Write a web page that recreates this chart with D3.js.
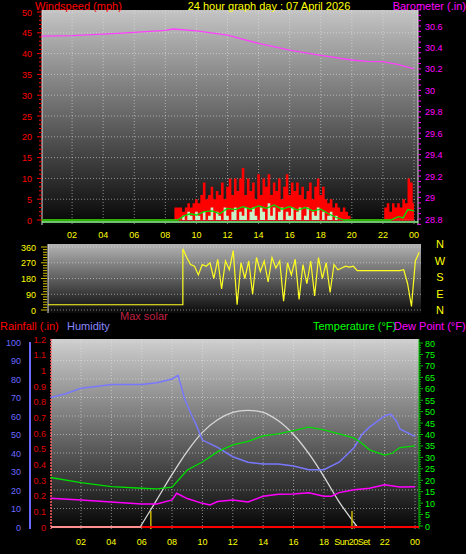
<!DOCTYPE html>
<html><head><meta charset="utf-8">
<script src="https://cdn.jsdelivr.net/npm/d3@7"></script>
<style>body{margin:0;background:#000}svg{display:block;font-family:"Liberation Sans",Arial,sans-serif}</style>
</head><body><svg id="c" width="466" height="554"></svg>
<script>
// ---------- data ----------
const hourTicks = ["02","04","06","08","10","12","14","16","18","20","22","00"];
const windTicks = [0,5,10,15,20,25,30,35,40,45,50];
const baroTicks = [28.8,29,29.2,29.4,29.6,29.8,30,30.2,30.4,30.6];
const dirTicks = [0,90,180,270,360];
const compass = ["N","W","S","E","N"];
const humTicks = [0,10,20,30,40,50,60,70,80,90,100];
const rainTicks = [0,0.1,0.2,0.3,0.4,0.5,0.6,0.7,0.8,0.9,1,1.1,1.2];
const tempTicks = [0,5,10,15,20,25,30,35,40,45,50,55,60,65,70,75,80];

const baroHours = [0,2,4,6,8,8.5,10,12,14,16,18,20,21,22,23,24];
const baroVals  = [30.505,30.51,30.525,30.54,30.56,30.572,30.554,30.514,30.437,30.375,30.326,30.283,30.27,30.268,30.24,30.2];

// gust (mph), 10-minute samples from 08:30 to 20:00
const gustStart = 8.5, gustStep = 1/6;
const gustVals = [0,3,3,3,2,3,4,3,4,5,4,6,9,5,6,8,5,7,6,9,5,8,10,6,10,7,10,12.5,6,10,7,9,5,11,6,10,8,11,6,9,7,10,5,8,11,6,9,7,9,6,8,5,7,9,5,8,10,6,8,5,4,5,3,4,3,2,3,2,1,0];
// gust 22:00-24:00, 10-minute samples
const gust2Start = 22, gust2Vals = [0,3,4,2,4,3,4,3,5,4,10,9,4];
// average speed (mph)
const avgHours = [0,8.8,9.2,9.6,10,10.5,11,11.5,12,12.5,13,13.5,14,14.5,15,15.5,16,16.5,17,17.5,18,18.5,19,19.5,22.5,23,23.3,23.6,24];
const avgVals  = [0,0,1,1.5,1.2,2,2.2,1.5,2.8,2.5,3.2,2.6,3.4,2.8,3.6,2.6,3.2,2.4,3,2.2,2.6,1.5,0.6,0,0,0.8,0.5,2.5,2.2];
// wind speed (mph), 10-minute samples from 09:00 to 19:30
const spdStart = 9, spdStep = 1/6;
const spdVals = [0,1,0,2,1,0,2,1,0,2,0,1,3,0,2,1,0,3,1,0,2,3,0,2,1,3,0,2,3,1,0,3,2,0,4,1,3,0,2,3,0,2,1,3,0,2,3,0,1,3,0,2,1,3,0,2,0,1,2,0,1,0,0,0];
// wind direction (deg)
const dirPreHours = [0,8.7], dirPreVals = [30,30];
const dirStart = 8.7, dirStep = 0.25;
const dirVals = [350,300,260,250,200,260,250,270,180,290,120,280,230,340,30,270,180,280,90,300,220,280,160,300,240,280,50,270,200,290,60,260,150,280,80,300,180,270,100,260,230,240,250,245,250,225,225,225,225,225,225,225,225,225,225,225,225,230,150,20,280,330,200,300];

// humidity %, temperature, dew point (°F)
const humHours = [0,1,2,3,4,5,6,7,8,8.4,8.8,9.2,9.6,10,11,12,13,14,15,16,17,18,19,20,20.5,21,22,22.4,22.8,23,24];
const humVals  = [70,72,75,76,77,77,77,78,80,82,70,62,55,47,43,38,35,34,34,33,31,31,35,43,50,54,60,61,57,53,49];
const tempHours = [0,2,4,6,7,8,9,10,11,12,13,14,15,16,17,18,19,20,20.5,21,22,22.5,23,24];
const tempVals  = [21.2,19,17.2,16.5,16.2,17,24.5,28,32.5,35.5,37,39.4,40.3,41.7,43.2,42,40.3,38.4,36.2,33.3,31,31.8,34.3,35];
const dewHours = [0,2,4,6,7,8,8.3,9,10,10.5,11,12,13,14,15,16,17,18,18.5,19,20,21,22,23,24];
const dewVals  = [12.1,11.4,10.5,9.6,9.6,11.4,14.3,12,9.9,9.2,10.7,11.4,10.5,13,13.9,14,14.5,13,13,14.6,15.8,16.5,18,17,17.2];
const solarHours = [5.9,7,8,9,10,11,12,13,14,15,16,17,18,19,20.2];
const solarVals  = [0,130,250,360,450,510,545,555,545,505,440,350,240,120,0];
const sunEvents = [6.6,19.85];

// ---------- drawing ----------
const svg = d3.select("#c");
const defs = svg.append("defs");
function grad(id, top, bot){
  const g = defs.append("linearGradient").attr("id",id).attr("x1",0).attr("y1",0).attr("x2",0).attr("y2",1);
  g.append("stop").attr("offset","0%").attr("stop-color",top);
  g.append("stop").attr("offset","100%").attr("stop-color",bot);
}
grad("g1","#c4c4c4","#050505"); grad("g2","#b4b4b4","#0a0a0a"); grad("g3","#cfcfcf","#050505");

function txt(x,y,s,col,anchor,size){
  return svg.append("text").attr("x",x).attr("y",y).attr("fill",col).attr("font-size",size||11)
    .attr("text-anchor",anchor||"start").text(s);
}
function hourAxis(x, y){
  hourTicks.forEach((t,i)=>txt(x(2+2*i), y, t, "#ffff00","middle",9));
}
function vgrid(g,x,y0,y1){
  d3.range(2,25,2).forEach(h=>g.append("line").attr("x1",x(h)).attr("x2",x(h)).attr("y1",y0).attr("y2",y1)
    .attr("stroke","#e8e8e8").attr("stroke-opacity",0.55).attr("stroke-dasharray","1,2"));
}
function hgrid(g,ys,x0,x1){
  ys.forEach(yy=>g.append("line").attr("x1",x0).attr("x2",x1).attr("y1",yy).attr("y2",yy)
    .attr("stroke","#e8e8e8").attr("stroke-opacity",0.55).attr("stroke-dasharray","1,2"));
}

// Panel 1
const x1 = d3.scaleLinear().domain([0,24]).range([41,414]);
const yW = d3.scaleLinear().domain([0,50]).range([220,12]);
const yB = d3.scaleLinear().domain([28.8,30.6]).range([219,26]);
const p1 = svg.append("g");
p1.append("rect").attr("x",42).attr("y",10).attr("width",376).attr("height",215).attr("fill","url(#g1)");
vgrid(p1,x1,10,225); hgrid(p1,windTicks.map(yW),42,418);
p1.append("line").attr("x1",42).attr("x2",42).attr("y1",10).attr("y2",225).attr("stroke","#ddd");
p1.append("line").attr("x1",418).attr("x2",418).attr("y1",10).attr("y2",225).attr("stroke","#ddd");
// gust areas
const gustPts = [[0,0],[gustStart,0]].concat(gustVals.map((v,i)=>[gustStart+i*gustStep,v]));
const gust2Pts = gust2Vals.map((v,i)=>[gust2Start+i/6,v]);
const area1 = d3.area().x(d=>x1(d[0])).y0(yW(0)).y1(d=>yW(d[1])).curve(d3.curveStep);
p1.append("path").datum(gustPts).attr("d",area1).attr("fill","#ff0000");
p1.append("path").datum(gust2Pts).attr("d",area1).attr("fill","#ff0000");
p1.append("line").attr("x1",x1(0)).attr("x2",x1(24)).attr("y1",yW(0)).attr("y2",yW(0)).attr("stroke","#ff2020").attr("stroke-width",1.5);
const spdPts = spdVals.map((v,i)=>[spdStart+i*spdStep,v]);
p1.append("path").datum(spdPts).attr("d",d3.area().x(d=>x1(d[0])).y0(yW(0)).y1(d=>yW(d[1])).curve(d3.curveStep)).attr("fill","#c8f0c8");
const avgPts = avgHours.map((h,i)=>[h,avgVals[i]]);
p1.append("path").datum(avgPts).attr("d",d3.line().x(d=>x1(d[0])).y(d=>yW(d[1]))).attr("fill","none").attr("stroke","#00e000").attr("stroke-width",1.3);
p1.append("line").attr("x1",42).attr("x2",418).attr("y1",222).attr("y2",222).attr("stroke","#90ff90").attr("stroke-width",1.5);
p1.append("path").datum(baroHours.map((h,i)=>[h,baroVals[i]]))
  .attr("d",d3.line().x(d=>x1(d[0])).y(d=>yB(d[1]))).attr("fill","none").attr("stroke","#ff40ff").attr("stroke-width",1.3);
windTicks.forEach(t=>txt(32,yW(t)+3.5,t,"#ff0000","end",9));
d3.range(0,51).forEach(t=>p1.append("line").attr("x1",t%5?39:37).attr("x2",42).attr("y1",yW(t)).attr("y2",yW(t)).attr("stroke","#ff0000"));
baroTicks.forEach(t=>txt(425,yB(t)+3.5,t,"#ff00ff","start",9));
d3.range(28.75,30.81,0.05).forEach(t=>p1.append("line").attr("x1",418).attr("x2",421).attr("y1",yB(t)).attr("y2",yB(t)).attr("stroke","#ff00ff"));
hourAxis(x1,238);
txt(35,10,"Windspeed (mph)","#ff0000","start",11);
txt(269,10,"24 hour graph day : 07 April 2026","#ffff00","middle",11);
txt(466,10,"Barometer (.in)","#ff00ff","end",11);

// Panel 2
const x2 = d3.scaleLinear().domain([0,24]).range([48,420]);
const yD = d3.scaleLinear().domain([0,360]).range([310,247]);
const p2 = svg.append("g");
p2.append("rect").attr("x",48).attr("y",244).attr("width",373).attr("height",69).attr("fill","url(#g2)");
hgrid(p2,dirTicks.map(yD),48,421);
p2.append("line").attr("x1",48).attr("x2",48).attr("y1",244).attr("y2",313).attr("stroke","#ddd");
const dirPts = dirPreHours.map((h,i)=>[h,dirPreVals[i]]).concat(dirVals.map((v,i)=>[dirStart+i*dirStep,v]).filter(d=>d[0]<=24.1));
p2.append("path").datum(dirPts).attr("d",d3.line().x(d=>x2(d[0])).y(d=>yD(d[1]))).attr("fill","none").attr("stroke","#ffff20").attr("stroke-width",1.2);
dirTicks.forEach(t=>txt(36,yD(t)+3.5,t,"#ffff00","end",9));
d3.range(0,361,15).forEach(t=>p2.append("line").attr("x1",t%90?43:41).attr("x2",47).attr("y1",yD(t)).attr("y2",yD(t)).attr("stroke","#d0c000"));
compass.forEach((c,i)=>txt(440,248+i*16.5,c,"#ffff00","middle",11));

// legends
txt(120,320,"Max solar","#c02040","start",11);
txt(0,330,"Rainfall (.in)","#ff0000","start",11);
txt(67,330,"Humidity","#8888ff","start",11);
txt(313,330,"Temperature (°F)","#00ff00","start",11);
txt(394,330,"Dew Point (°F)","#ff00ff","start",11);

// Panel 3
const x3 = d3.scaleLinear().domain([0,24]).range([50.6,415]);
const yH = d3.scaleLinear().domain([0,100]).range([527,342]);
const yR = d3.scaleLinear().domain([0,1.2]).range([527,339]);
const yT = d3.scaleLinear().domain([0,80]).range([526,343]);
const yS = d3.scaleLinear().domain([0,880]).range([527,342]);
const p3 = svg.append("g");
p3.append("rect").attr("x",51).attr("y",339).attr("width",368).attr("height",190).attr("fill","url(#g3)");
vgrid(p3,x3,339,529); hgrid(p3,humTicks.map(yH),51,419);
p3.append("line").attr("x1",51).attr("x2",51).attr("y1",339).attr("y2",529).attr("stroke","#ff6060").attr("stroke-dasharray","2,1").attr("stroke-width",1.5);
p3.append("line").attr("x1",30).attr("x2",30).attr("y1",342).attr("y2",529).attr("stroke","#6a6aff").attr("stroke-width",2);
p3.append("line").attr("x1",419).attr("x2",419).attr("y1",339).attr("y2",529).attr("stroke","#00c000");
p3.append("path").datum(solarHours.map((h,i)=>[h,solarVals[i]])).attr("d",d3.line().x(d=>x3(d[0])).y(d=>yS(d[1])).curve(d3.curveCatmullRom))
  .attr("fill","none").attr("stroke","#d8d8d8").attr("stroke-width",1.3);
sunEvents.forEach(h=>p3.append("line").attr("x1",x3(h)).attr("x2",x3(h)).attr("y1",511).attr("y2",529).attr("stroke","#c8b400").attr("stroke-width",1.5));
p3.append("line").attr("x1",51).attr("x2",x3(6)).attr("y1",yR(0)).attr("y2",yR(0)).attr("stroke","#ff9090").attr("stroke-width",2);
p3.append("line").attr("x1",x3(6)).attr("x2",419).attr("y1",yR(0)).attr("y2",yR(0)).attr("stroke","#ff0000").attr("stroke-width",2);
const ln = (sy)=>d3.line().x(d=>x3(d[0])).y(d=>sy(d[1]));
p3.append("path").datum(humHours.map((h,i)=>[h,humVals[i]])).attr("d",ln(yH)).attr("fill","none").attr("stroke","#7878ff").attr("stroke-width",1.5);
p3.append("path").datum(tempHours.map((h,i)=>[h,tempVals[i]])).attr("d",ln(yT)).attr("fill","none").attr("stroke","#00dd00").attr("stroke-width",1.3);
p3.append("path").datum(dewHours.map((h,i)=>[h,dewVals[i]])).attr("d",ln(yT)).attr("fill","none").attr("stroke","#ff00ff").attr("stroke-width",1.5);
humTicks.forEach(t=>txt(21,yH(t)+3.5,t,"#6a6aff","end",9));
rainTicks.forEach(t=>txt(46,yR(t)+3.5,t,"#e00000","end",9));
tempTicks.forEach(t=>txt(425,yT(t)+3.5,t,"#00ff00","start",9));
d3.range(0,81,1).forEach(t=>p3.append("line").attr("x1",419).attr("x2",t%5?421:423).attr("y1",yT(t)).attr("y2",yT(t)).attr("stroke","#00c000"));
hourTicks.forEach((t,i)=>{ if(t!=="20") txt(x3(2+2*i),545,t,"#ffff00","middle",9); });
txt(x3(19.85),545,"Sun20Set","#ffff00","middle",9).attr("letter-spacing",-0.5);
</script></body></html>
